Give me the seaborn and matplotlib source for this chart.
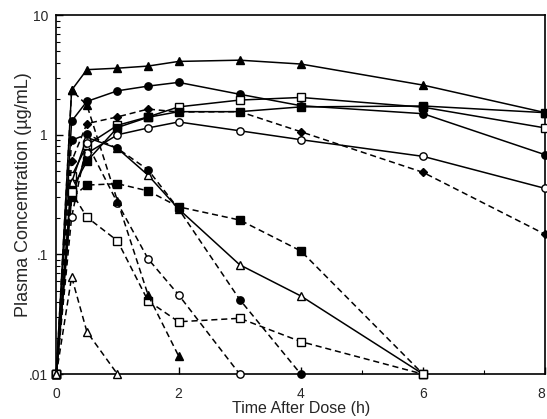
import numpy as np
import pandas as pd
import seaborn as sns
from matplotlib import pyplot as plt
from matplotlib.ticker import FixedLocator, NullFormatter

# sampling times (h); .01 is the floor used for samples below the limit
times = [0, 0.25, 0.5, 1, 1.5, 2, 3, 4, 6, 8]

# solid lines
tri_f_solid = [0.01, 2.36, 3.5, 3.6, 3.75, 4.1, 4.2, 3.9, 2.6, 1.53]
circ_f_solid = [0.01, 1.3, 1.9, 2.33, 2.55, 2.74, 2.18, 1.75, 1.5, 0.68]
sq_o_solid = [0.01, 0.45, 0.82, 1.2, 1.41, 1.71, 1.95, 2.05, 1.7, 1.14]
sq_f_solid = [0.01, 0.35, 0.6, 1.15, 1.4, 1.56, 1.56, 1.71, 1.74, 1.53]
circ_o_solid = [0.01, 0.3, 0.7, 1.0, 1.14, 1.28, 1.08, 0.91, 0.66, 0.356]
tri_o_solid = [0.01, 0.4, 0.95, 0.77, 0.46, 0.24, 0.082, 0.045, 0.01]

# dashed lines
dia_f_dash = [0.01, 0.6, 1.24, 1.41, 1.64, 1.55, 1.56, 1.06, 0.485, 0.147]
sq_f_dash = [0.01, 0.3, 0.38, 0.39, 0.34, 0.25, 0.194, 0.107, 0.01]
circ_f_dash = [0.01, 0.9, 1.01, 0.77, 0.51, 0.24, 0.042, 0.01]
circ_o_dash = [0.01, 0.205, 0.85, 0.27, 0.092, 0.046, 0.01]
sq_o_dash = [0.01, 0.33, 0.205, 0.13, 0.041, 0.0274, 0.0293, 0.0187, 0.01]
tri_f_dash = [0.01, 2.36, 1.77, 0.28, 0.046, 0.0142]
tri_o_dash = [0.01, 0.065, 0.0226, 0.01]

series = [
    (tri_f_solid, "^", True, "-"),
    (circ_f_solid, "o", True, "-"),
    (sq_o_solid, "s", False, "-"),
    (sq_f_solid, "s", True, "-"),
    (circ_o_solid, "o", False, "-"),
    (tri_o_solid, "^", False, "-"),
    (dia_f_dash, "D", True, "--"),
    (sq_f_dash, "s", True, "--"),
    (circ_f_dash, "o", True, "--"),
    (circ_o_dash, "o", False, "--"),
    (sq_o_dash, "s", False, "--"),
    (tri_f_dash, "^", True, "--"),
    (tri_o_dash, "^", False, "--"),
]

sns.set_style("ticks")
plt.rcParams['font.family'] = ['Liberation Sans', 'DejaVu Sans']

fig = plt.figure(figsize=(5.47, 4.19), dpi=100)
ax = fig.add_axes([0.103, 0.107, 0.894, 0.857])

for vals, mk, filled, ls in series:
    df = pd.DataFrame({"t": times[:len(vals)], "c": vals})
    sns.lineplot(data=df, x="t", y="c", ax=ax, color="black", lw=1.1,
                 linestyle=ls, marker=mk, markersize=4.5 if mk == "D" else 5.3,
                 markerfacecolor="black" if filled else "white",
                 markeredgecolor="black", markeredgewidth=1.0,
                 dashes=False, clip_on=False, zorder=3)
    if ls == "--":
        ax.lines[-1].set_dashes((4, 2.5))

ax.set_yscale("log")
ax.set_xlim(0, 8)
ax.set_ylim(0.01, 10)
ax.set_xticks([0, 2, 4, 6, 8])
ax.set_xticklabels(["0", "2", "4", "6", "8"])
ax.xaxis.set_minor_locator(FixedLocator([1, 3, 5, 7]))
ax.set_yticks([0.01, 0.1, 1, 10])
ax.set_yticklabels([".01", ".1", "1", "10"])
minors = [m * 10.0 ** e for e in (-2, -1, 0) for m in range(2, 10)]
ax.yaxis.set_minor_locator(FixedLocator(minors))
ax.yaxis.set_minor_formatter(NullFormatter())
ax.tick_params(which="major", direction="in", length=5, width=1, labelsize=10, color="black")
ax.tick_params(axis="x", which="major", pad=9)
ax.tick_params(axis="y", which="major", pad=6)
ax.tick_params(which="minor", direction="in", length=3, width=0.8, color="black")
ax.get_xticklabels()[-1].set_horizontalalignment("right")
for s in ax.spines.values():
    s.set_visible(True)
    s.set_linewidth(1.2)
    s.set_color("black")

ax.set_xlabel("Time After Dose (h)", fontsize=11.5, labelpad=0)
ax.set_ylabel("Plasma Concentration (\u00b5g/mL)", fontsize=13, labelpad=-2)

fig.savefig("out.png", dpi=100)
